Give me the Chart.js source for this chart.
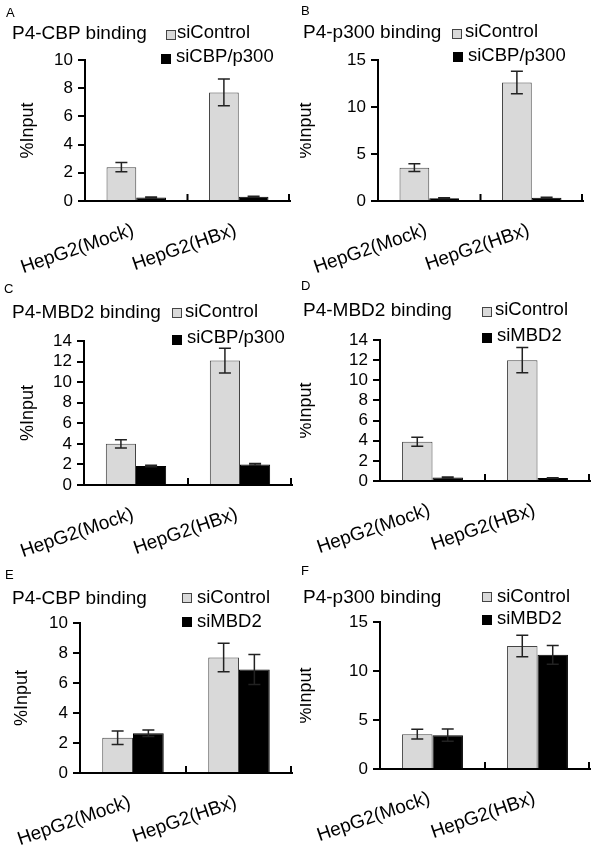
<!DOCTYPE html>
<html>
<head>
<meta charset="utf-8">
<script src="https://cdn.jsdelivr.net/npm/chart.js@4.4.1/dist/chart.umd.min.js"></script>
<style>
  body { margin: 0; background: #fff; }
  #fig { position: relative; width: 600px; height: 847px; overflow: hidden; font-family: "Liberation Sans", Arial, sans-serif; color: #000; }
  .panel { position: absolute; overflow: hidden; }
  .panel canvas { position: absolute; left: 0; top: 0; }
  .txt { position: absolute; white-space: nowrap; line-height: 1; }
  .box { position: absolute; width: 10px; height: 10px; box-sizing: border-box; }
</style>
</head>
<body>
<div id="fig"></div>
<script>
// categories shared by every panel
const categories = ['HepG2(Mock)', 'HepG2(HBx)'];

const panelLetters = ['A', 'B', 'C', 'D', 'E', 'F'];
const panelTitles = ['P4-CBP binding', 'P4-p300 binding', 'P4-MBD2 binding', 'P4-MBD2 binding', 'P4-CBP binding', 'P4-p300 binding'];
const controlNames = ['siControl', 'siControl', 'siControl', 'siControl', 'siControl', 'siControl'];
const knockdownNames = ['siCBP/p300', 'siCBP/p300', 'siCBP/p300', 'siMBD2', 'siMBD2', 'siMBD2'];

// % input values
const controlValues = [[2.4, 7.7], [3.55, 12.6], [4.0, 12.1], [3.9, 12.0], [2.35, 7.7], [3.55, 12.55]];
const controlErrors = [[0.33, 0.95], [0.42, 1.2], [0.4, 1.2], [0.45, 1.25], [0.45, 0.95], [0.5, 1.1]];
const knockdownValues = [[0.25, 0.3], [0.3, 0.35], [1.85, 2.0], [0.35, 0.3], [2.65, 6.9], [3.45, 11.65]];
const knockdownErrors = [[0.03, 0.03], [0.05, 0.05], [0.08, 0.08], [0.05, 0.03], [0.22, 1.0], [0.62, 0.95]];

// y axis ranges
const yMax = [10, 15, 14, 14, 10, 15];
const yStep = [2, 5, 2, 2, 2, 5];

// panel placement: [left, top, width, height] and plot box inside it [axisX, topY, zeroY, rightX]
const panelBoxes = [[0, 0, 300, 280], [300, 0, 300, 280], [0, 280, 300, 280], [300, 280, 300, 280], [0, 560, 300, 287], [300, 560, 300, 287]];
const plotBoxes = [[85, 60, 201, 290], [78, 60, 201, 283], [84, 61, 205, 292], [80, 60, 201, 290], [80, 63, 213, 292], [80, 62, 209, 290]];
const yTitlePad = [17, -5, 17, -5, 11, -5];

// text placement inside panel: letter, title, legend rows [boxX, boxY, textX, baseline]
const letterPos = [[6, 17], [1, 15], [4, 13], [1, 10], [5, 19], [1, 15]];
const titlePos = [[12, 39], [3, 38], [12, 38], [3, 36], [12, 44], [3, 43]];
const legendPos = [
  [[166, 30, 177, 39], [161, 54, 176, 63]],
  [[152, 29, 165, 38], [153, 52, 168, 62]],
  [[172, 28, 185, 38], [172, 55, 187, 64]],
  [[182, 27, 195, 36], [182, 53, 197, 62]],
  [[182, 33, 197, 44], [182, 57, 197, 68]],
  [[182, 32, 197, 43], [182, 55, 197, 65]]
];

const FONT = '"Liberation Sans", Arial, sans-serif';

const errorBars = {
  id: 'errorBars',
  afterDatasetsDraw(chart) {
    const ctx = chart.ctx;
    const y = chart.scales.y;
    ctx.save();
    ctx.strokeStyle = '#222';
    ctx.lineWidth = 1.5;
    chart.data.datasets.forEach((ds, i) => {
      const meta = chart.getDatasetMeta(i);
      meta.data.forEach((bar, j) => {
        const v = ds.data[j];
        const e = ds.errors[j];
        const top = y.getPixelForValue(v + e);
        const bot = y.getPixelForValue(v - e);
        ctx.beginPath();
        ctx.moveTo(bar.x, top); ctx.lineTo(bar.x, bot);
        ctx.moveTo(bar.x - 6, top); ctx.lineTo(bar.x + 6, top);
        ctx.moveTo(bar.x - 6, bot); ctx.lineTo(bar.x + 6, bot);
        ctx.stroke();
      });
    });
    // upward tick marks at category boundaries
    const x = chart.scales.x;
    const base = chart.chartArea.bottom;
    ctx.strokeStyle = '#000';
    ctx.lineWidth = 2;
    for (let k = 1; k <= categories.length; k++) {
      const px = k === categories.length ? chart.chartArea.right - 1 : x.getPixelForValue(k - 0.5);
      ctx.beginPath();
      ctx.moveTo(px, base);
      ctx.lineTo(px, base - 7);
      ctx.stroke();
    }
    ctx.restore();
  }
};

const fig = document.getElementById('fig');

function addText(parent, text, x, baseline, size) {
  const s = document.createElement('div');
  s.className = 'txt';
  s.textContent = text;
  s.style.fontSize = size + 'px';
  s.style.left = x + 'px';
  s.style.top = (baseline - Math.round(size * 0.85)) + 'px';
  parent.appendChild(s);
}

function addBox(parent, x, y, fill, border) {
  const b = document.createElement('div');
  b.className = 'box';
  b.style.left = x + 'px';
  b.style.top = y + 'px';
  b.style.background = fill;
  b.style.border = '1px solid ' + border;
  parent.appendChild(b);
}

panelBoxes.forEach((pb, p) => {
  const [left, top, w, h] = pb;
  const [ax, ty, zy, rx] = plotBoxes[p];
  const div = document.createElement('div');
  div.className = 'panel';
  div.style.left = left + 'px';
  div.style.top = top + 'px';
  div.style.width = w + 'px';
  div.style.height = h + 'px';
  const canvas = document.createElement('canvas');
  canvas.width = w;
  canvas.height = h;
  div.appendChild(canvas);
  fig.appendChild(div);

  addText(div, panelLetters[p], letterPos[p][0], letterPos[p][1], 13);
  addText(div, panelTitles[p], titlePos[p][0], titlePos[p][1], 19);
  const [r1, r2] = legendPos[p];
  addBox(div, r1[0], r1[1], '#d9d9d9', '#444');
  addText(div, controlNames[p], r1[2], r1[3], 18.5);
  addBox(div, r2[0], r2[1], '#000', '#000');
  addText(div, knockdownNames[p], r2[2], r2[3], 18.5);

  new Chart(canvas, {
    type: 'bar',
    data: {
      labels: categories,
      datasets: [
        {
          label: controlNames[p],
          data: controlValues[p],
          errors: controlErrors[p],
          backgroundColor: '#d9d9d9',
          borderColor: '#444',
          borderWidth: 1,
          categoryPercentage: 0.58,
          barPercentage: 1.0
        },
        {
          label: knockdownNames[p],
          data: knockdownValues[p],
          errors: knockdownErrors[p],
          backgroundColor: '#000',
          borderColor: '#000',
          borderWidth: 1,
          categoryPercentage: 0.58,
          barPercentage: 1.0
        }
      ]
    },
    options: {
      responsive: false,
      animation: false,
      devicePixelRatio: 1,
      layout: { padding: { left: 0, top: ty, right: w - rx, bottom: 0 } },
      plugins: {
        legend: { display: false },
        tooltip: { enabled: false }
      },
      scales: {
        x: {
          // keep the rotated labels from pushing the plot area around
          afterFit: s => { s.height = h - zy; s.paddingLeft = 0; s.paddingRight = 0; },
          border: { color: '#000', width: 2 },
          grid: { display: false },
          ticks: {
            color: '#000',
            font: { family: FONT, size: 19 },
            minRotation: 19,
            maxRotation: 19,
            autoSkip: false,
            labelOffset: -3,
            padding: 10
          }
        },
        y: {
          min: 0,
          max: yMax[p],
          afterFit: s => { s.width = ax; s.paddingTop = 0; s.paddingBottom = 0; },
          border: { color: '#000', width: 2 },
          grid: { drawOnChartArea: false, drawTicks: true, tickLength: 7, color: '#000', lineWidth: 2 },
          ticks: {
            stepSize: yStep[p],
            autoSkip: false,
            color: '#000',
            font: { family: FONT, size: 17 },
            padding: 5
          },
          title: {
            display: true,
            text: '%Input',
            color: '#000',
            font: { family: FONT, size: 18 },
            padding: { top: yTitlePad[p], bottom: 0 }
          }
        }
      }
    },
    plugins: [errorBars]
  });
});
</script>
</body>
</html>
